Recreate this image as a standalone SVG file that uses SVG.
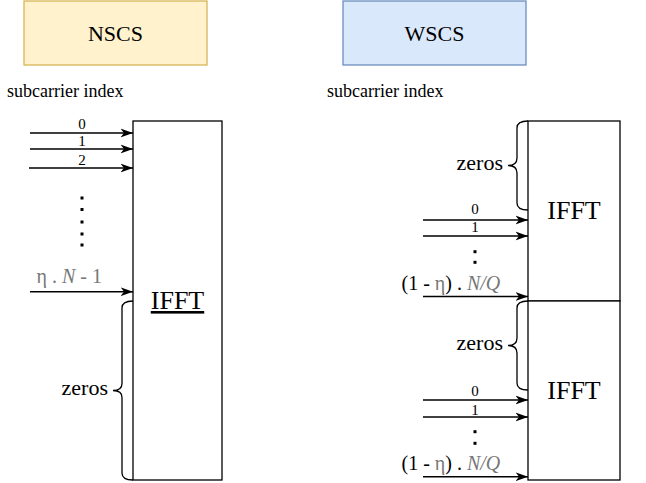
<svg xmlns="http://www.w3.org/2000/svg" width="646" height="483" viewBox="0 0 646 483" font-family="'Liberation Serif','Times New Roman',serif">
<style>
text{font-family:"Liberation Serif","Times New Roman",serif;fill:#000}
.box{fill:#fff;stroke:#000;stroke-width:1.3}
.ln{stroke:#000;stroke-width:1.4;fill:none}
.br{stroke:#000;stroke-width:1.3;fill:none}
.idx{font-size:15px;text-anchor:middle}
.lab{font-size:20px}
.g{fill:#777}
.zr{font-size:22px;text-anchor:end}
.ifft{font-size:26px;text-anchor:middle}
.hdr{font-size:22px;text-anchor:middle}
.sub{font-size:18px}
</style>
<defs>
<marker id="ah" markerUnits="userSpaceOnUse" markerWidth="14" markerHeight="12" refX="12.5" refY="6" orient="auto">
<path d="M0,1.5 L12.5,6 L0,10.5 L3.5,6 Z" fill="#000"/>
</marker>
</defs>

<g id="nscs-header">
<rect x="24" y="1" width="183" height="64" fill="#fff2cc" stroke="#d6b656" stroke-width="1.3"/>
<text class="hdr" x="115.5" y="40.5">NSCS</text>
</g>
<g id="wscs-header">
<rect x="343" y="1" width="183" height="64" fill="#dae8fc" stroke="#6c8ebf" stroke-width="1.3"/>
<text class="hdr" x="434.5" y="40.5">WSCS</text>
</g>
<g id="sub-left"><text class="sub" x="7" y="97">subcarrier index</text></g>
<g id="sub-right"><text class="sub" x="327" y="97">subcarrier index</text></g>

<g id="ifft-left">
<rect class="box" x="133" y="121" width="89" height="359"/>
<text class="ifft" x="177.5" y="309" text-decoration="underline">IFFT</text>
</g>
<g id="ifft-right-top">
<rect class="box" x="528" y="121" width="92" height="180"/>
<text class="ifft" x="574" y="218.5">IFFT</text>
</g>
<g id="ifft-right-bottom">
<rect class="box" x="528" y="301" width="92" height="179"/>
<text class="ifft" x="574" y="398.5">IFFT</text>
</g>

<g id="connectors">
<line class="ln" x1="30" y1="133" x2="133" y2="133" marker-end="url(#ah)"/>
<line class="ln" x1="30" y1="149" x2="133" y2="149" marker-end="url(#ah)"/>
<line class="ln" x1="29" y1="168" x2="133" y2="168" marker-end="url(#ah)"/>
<line class="ln" x1="30" y1="291.7" x2="133" y2="291.7" marker-end="url(#ah)"/>
<line class="ln" x1="423" y1="220" x2="528" y2="220" marker-end="url(#ah)"/>
<line class="ln" x1="423" y1="236" x2="528" y2="236" marker-end="url(#ah)"/>
<line class="ln" x1="423" y1="296.5" x2="528" y2="296.5" marker-end="url(#ah)"/>
<line class="ln" x1="423" y1="400" x2="528" y2="400" marker-end="url(#ah)"/>
<line class="ln" x1="423" y1="417" x2="528" y2="417" marker-end="url(#ah)"/>
<line class="ln" x1="423" y1="476.7" x2="528" y2="476.7" marker-end="url(#ah)"/>
</g>

<g id="labels-left">
<text class="idx" x="82" y="129">0</text>
<text class="idx" x="82" y="146">1</text>
<text class="idx" x="82" y="165">2</text>
<g fill="#000">
<rect x="80.5" y="196.5" width="3" height="3"/>
<rect x="80.5" y="208" width="3" height="3"/>
<rect x="80.5" y="220.5" width="3" height="3"/>
<rect x="80.5" y="232.5" width="3" height="3"/>
<rect x="80.5" y="243.5" width="3" height="3"/>
</g>
<text class="lab g" x="36.5" y="283">η . <tspan font-style="italic">N</tspan> - 1</text>
</g>

<g id="labels-right">
<text class="idx" x="475" y="214">0</text>
<text class="idx" x="475" y="232">1</text>
<rect x="473.5" y="250.2" width="3" height="3"/>
<rect x="473.5" y="260.8" width="3" height="3"/>
<text class="lab" x="401.5" y="290">(1 - <tspan class="g">η</tspan>) . <tspan class="g" font-style="italic">N/Q</tspan></text>
<text class="idx" x="475" y="396">0</text>
<text class="idx" x="475" y="415">1</text>
<rect x="473.5" y="430.2" width="3" height="3"/>
<rect x="473.5" y="441.8" width="3" height="3"/>
<text class="lab" x="401.5" y="470">(1 - <tspan class="g">η</tspan>) . <tspan class="g" font-style="italic">N/Q</tspan></text>
</g>

<g id="brace-left">
<path class="br" d="M133,301 Q122,301 122,308 L122,383.5 Q122,390.5 113,390.5 Q122,390.5 122,397.5 L122,473 Q122,480 133,480"/>
<text class="zr" x="108" y="395">zeros</text>
</g>
<g id="brace-right-top">
<path class="br" d="M528,121 Q517,121 517,128 L517,158 Q517,165.5 508,165.5 Q517,165.5 517,173 L517,203 Q517,210 528,210"/>
<text class="zr" x="503" y="170">zeros</text>
</g>
<g id="brace-right-bottom">
<path class="br" d="M528,301 Q517,301 517,308 L517,338 Q517,345.5 508,345.5 Q517,345.5 517,353 L517,383 Q517,390 528,390"/>
<text class="zr" x="503" y="350">zeros</text>
</g>
</svg>
